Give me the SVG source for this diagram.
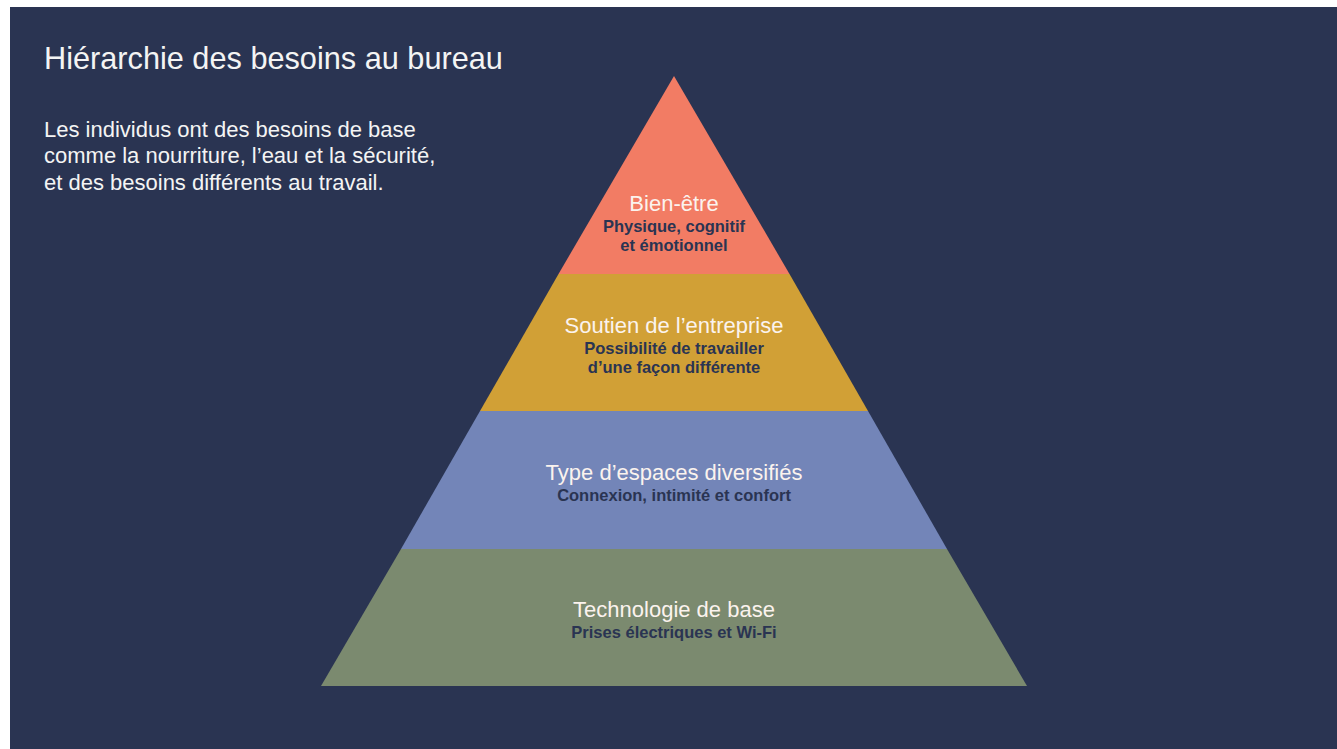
<svg xmlns="http://www.w3.org/2000/svg" width="1337" height="749" viewBox="0 0 1337 749">
<style>
.h{font-family:"Liberation Sans",Arial,sans-serif;fill:#F4F4F4}
.t{font-family:"Liberation Sans",Arial,sans-serif;fill:#FBF3EE;font-size:22px;text-anchor:middle}
.s{font-family:"Liberation Sans",Arial,sans-serif;fill:#2A3452;font-size:16.5px;font-weight:bold;text-anchor:middle}
</style>
<rect x="0" y="0" width="1337" height="749" fill="#FFFFFF"/>
<rect x="10" y="7" width="1327" height="742" fill="#2A3452"/>
<text class="h" x="44" y="69" font-size="30.7">Hiérarchie des besoins au bureau</text>
<text class="h" x="44" y="137" font-size="22">Les individus ont des besoins de base</text>
<text class="h" x="44" y="163" font-size="22">comme la nourriture, l’eau et la sécurité,</text>
<text class="h" x="44" y="190" font-size="22">et des besoins différents au travail.</text>
<g id="level-4">
<polygon points="674,76 789.5,274 558.5,274" fill="#F27C64"/>
<text class="t" x="674" y="211">Bien-être</text>
<text class="s" x="674" y="232">Physique, cognitif</text>
<text class="s" x="674" y="251">et émotionnel</text>
</g>
<g id="level-3">
<polygon points="558.5,274 789.5,274 868,411 480,411" fill="#D1A036"/>
<text class="t" x="674" y="333">Soutien de l’entreprise</text>
<text class="s" x="674" y="354">Possibilité de travailler</text>
<text class="s" x="674" y="373">d’une façon différente</text>
</g>
<g id="level-2">
<polygon points="480,411 868,411 947,549 401,549" fill="#7385B8"/>
<text class="t" x="674" y="480">Type d’espaces diversifiés</text>
<text class="s" x="674" y="501">Connexion, intimité et confort</text>
</g>
<g id="level-1">
<polygon points="401,549 947,549 1027,686 321,686" fill="#7B8A6F"/>
<text class="t" x="674" y="617">Technologie de base</text>
<text class="s" x="674" y="638">Prises électriques et Wi-Fi</text>
</g>
<g id="connectors"/>
</svg>
